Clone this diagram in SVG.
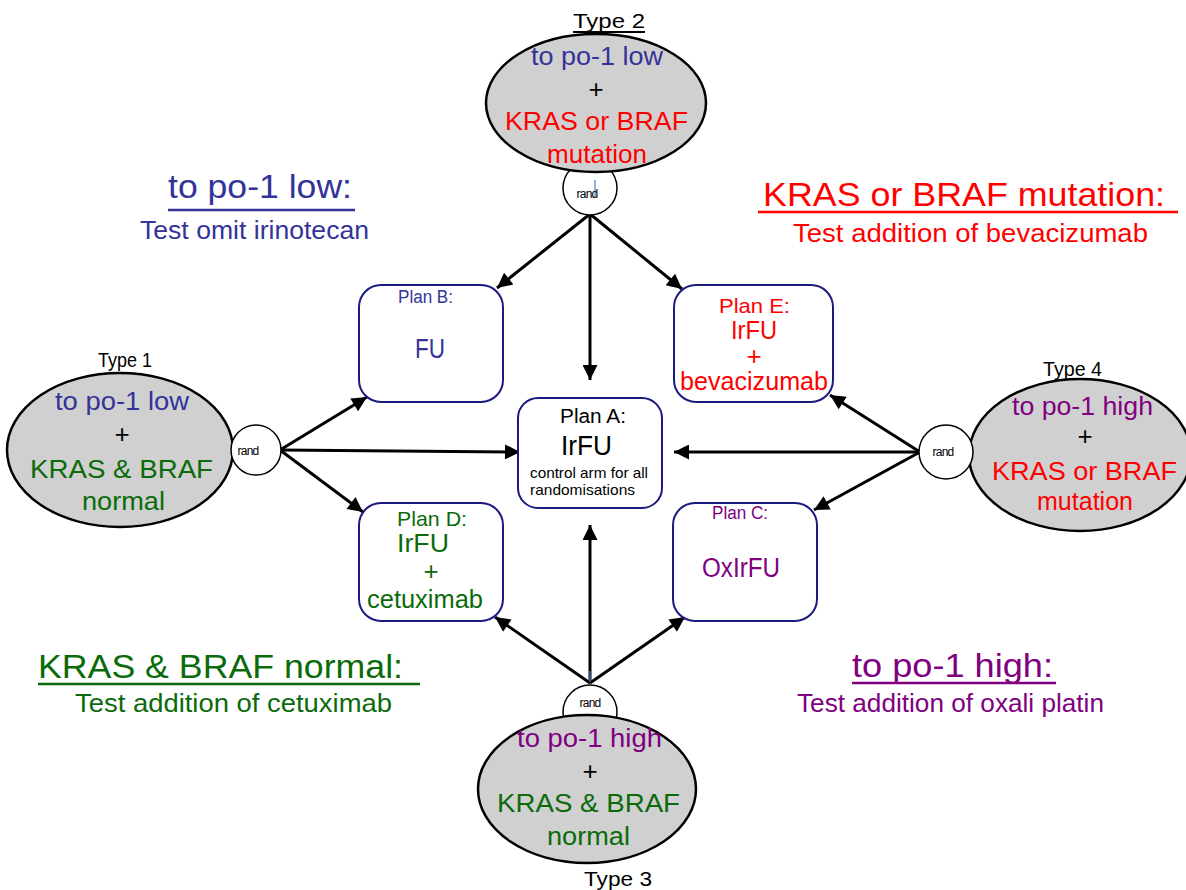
<svg xmlns="http://www.w3.org/2000/svg" width="1186" height="890" viewBox="0 0 1186 890">
  <defs>
    <marker id="arrow" viewBox="0 0 10 10" refX="10" refY="5" markerWidth="7" markerHeight="5" orient="auto" markerUnits="strokeWidth">
      <path d="M0,0 L10,5 L0,10 z" fill="#000"/>
    </marker>
    <style>
      text { font-family: "Liberation Sans", Arial, sans-serif; }
      .blue { fill: #333399; }
      .red { fill: #ff0000; }
      .green { fill: #0b6b0b; }
      .purple { fill: #800080; }
      .black { fill: #000; }
      .group-oval { fill: #d0d0d0; stroke: #000; stroke-width: 2.5; }
      .rand-circle { fill: #fff; stroke: #000; stroke-width: 1.5; }
      .rand-text { font-size: 12px; letter-spacing: -0.8px; fill: #000; }
      .type-label { font-size: 21px; fill: #000; }
      .oval-text { font-size: 26px; }
      .plan-box { fill: #fff; stroke: #1a1a80; stroke-width: 2; }
      .connector { stroke: #000; stroke-width: 3; fill: none; marker-end: url(#arrow); }
      .heading { font-size: 34px; }
      .subheading { font-size: 25px; }
      .tick { stroke: #4a7fd0; stroke-width: 1.2; }
    </style>
  </defs>

  <rect x="0" y="0" width="1186" height="890" fill="#fff"/>

  <!-- Heading captions for each patient group -->
  <g id="caption-low">
    <text class="heading blue" x="168" y="198" textLength="184" lengthAdjust="spacingAndGlyphs">to po-1 low:</text>
    <line x1="168" y1="210" x2="355" y2="210" stroke="#333399" stroke-width="2.5"/>
    <text class="subheading blue" x="140" y="239" textLength="229" lengthAdjust="spacingAndGlyphs">Test omit irinotecan</text>
  </g>
  <g id="caption-mutation">
    <text class="heading red" x="763" y="206" textLength="402" lengthAdjust="spacingAndGlyphs">KRAS or BRAF mutation:</text>
    <line x1="758" y1="212" x2="1178" y2="212" stroke="#ff0000" stroke-width="2.5"/>
    <text class="subheading red" x="793" y="242" textLength="355" lengthAdjust="spacingAndGlyphs">Test addition of bevacizumab</text>
  </g>
  <g id="caption-normal">
    <text class="heading green" x="38" y="678" textLength="365" lengthAdjust="spacingAndGlyphs">KRAS &amp; BRAF normal:</text>
    <line x1="38" y1="684" x2="420" y2="684" stroke="#0b6b0b" stroke-width="2.5"/>
    <text class="subheading green" x="75" y="712" textLength="317" lengthAdjust="spacingAndGlyphs">Test addition of cetuximab</text>
  </g>
  <g id="caption-high">
    <text class="heading purple" x="852" y="677" textLength="201" lengthAdjust="spacingAndGlyphs">to po-1 high:</text>
    <line x1="852" y1="683" x2="1056" y2="683" stroke="#800080" stroke-width="2.5"/>
    <text class="subheading purple" x="797" y="712" textLength="307" lengthAdjust="spacingAndGlyphs">Test addition of oxali platin</text>
  </g>

  <!-- Connectors from each randomisation point to the plans -->
  <g id="connectors">
    <line class="connector" x1="590" y1="214" x2="497" y2="288"/>
    <line class="connector" x1="590" y1="214" x2="590" y2="380"/>
    <line class="connector" x1="590" y1="214" x2="682" y2="289"/>

    <line class="connector" x1="280" y1="450" x2="367" y2="397"/>
    <line class="connector" x1="280" y1="450" x2="520" y2="452"/>
    <line class="connector" x1="280" y1="450" x2="363" y2="512"/>

    <line class="connector" x1="920" y1="452" x2="830" y2="395"/>
    <line class="connector" x1="920" y1="452" x2="674" y2="452"/>
    <line class="connector" x1="920" y1="452" x2="814" y2="510"/>

    <line class="connector" x1="590" y1="683" x2="495" y2="617"/>
    <line class="connector" x1="590" y1="683" x2="590" y2="525"/>
    <line class="connector" x1="590" y1="683" x2="685" y2="617"/>
  </g>

  <!-- Treatment plans -->
  <g id="plan-b">
    <rect class="plan-box" x="359" y="285" width="144" height="117" rx="22"/>
    <text class="blue" x="398" y="303" font-size="18" textLength="55" lengthAdjust="spacingAndGlyphs">Plan B:</text>
    <text class="blue" x="415" y="358" font-size="27" textLength="30" lengthAdjust="spacingAndGlyphs">FU</text>
  </g>
  <g id="plan-e">
    <rect class="plan-box" x="674" y="285" width="159" height="117" rx="22"/>
    <text class="red" x="719" y="313" font-size="21" textLength="71" lengthAdjust="spacingAndGlyphs">Plan E:</text>
    <text class="red" x="731" y="339" font-size="25" textLength="46" lengthAdjust="spacingAndGlyphs">IrFU</text>
    <text class="red" x="754" y="365" font-size="26" text-anchor="middle">+</text>
    <text class="red" x="680" y="390" font-size="25" textLength="148" lengthAdjust="spacingAndGlyphs">bevacizumab</text>
  </g>
  <g id="plan-a">
    <rect class="plan-box" x="518" y="398" width="144" height="110" rx="20"/>
    <text class="black" x="560" y="423" font-size="20" textLength="66" lengthAdjust="spacingAndGlyphs">Plan A:</text>
    <text class="black" x="561" y="455" font-size="28" textLength="51" lengthAdjust="spacingAndGlyphs">IrFU</text>
    <text class="black" x="530" y="478" font-size="15" textLength="118" lengthAdjust="spacingAndGlyphs">control arm for all</text>
    <text class="black" x="530" y="495" font-size="15" textLength="105" lengthAdjust="spacingAndGlyphs">randomisations</text>
  </g>
  <g id="plan-d">
    <rect class="plan-box" x="359" y="503" width="144" height="118" rx="22"/>
    <text class="green" x="397" y="526" font-size="21" textLength="70" lengthAdjust="spacingAndGlyphs">Plan D:</text>
    <text class="green" x="397" y="552" font-size="26" textLength="52" lengthAdjust="spacingAndGlyphs">IrFU</text>
    <text class="green" x="431" y="580" font-size="26" text-anchor="middle">+</text>
    <text class="green" x="367" y="608" font-size="26" textLength="116" lengthAdjust="spacingAndGlyphs">cetuximab</text>
  </g>
  <g id="plan-c">
    <rect class="plan-box" x="673" y="503" width="144" height="118" rx="22"/>
    <text class="purple" x="712" y="519" font-size="18" textLength="56" lengthAdjust="spacingAndGlyphs">Plan C:</text>
    <text class="purple" x="702" y="577" font-size="27" textLength="78" lengthAdjust="spacingAndGlyphs">OxIrFU</text>
  </g>

  <!-- Type 2: top group -->
  <g id="type-2">
    <circle class="rand-circle" cx="590" cy="188" r="27"/>
    <line class="tick" x1="595" y1="180" x2="595" y2="197"/>
    <text class="rand-text" x="587" y="198" text-anchor="middle">rand</text>
    <ellipse class="group-oval" cx="596" cy="103" rx="110" ry="69"/>
    <text class="type-label" x="573" y="28" textLength="72" lengthAdjust="spacingAndGlyphs">Type 2</text>
    <line x1="573" y1="32" x2="645" y2="32" stroke="#000" stroke-width="2"/>
    <text class="oval-text blue" x="531" y="65" textLength="132" lengthAdjust="spacingAndGlyphs">to po-1 low</text>
    <text class="oval-text black" x="596" y="98" text-anchor="middle">+</text>
    <text class="oval-text red" x="505" y="130" textLength="183" lengthAdjust="spacingAndGlyphs">KRAS or BRAF</text>
    <text class="oval-text red" x="547" y="163" textLength="100" lengthAdjust="spacingAndGlyphs">mutation</text>
  </g>

  <!-- Type 1: left group -->
  <g id="type-1">
    <ellipse class="group-oval" cx="120" cy="450" rx="113" ry="77"/>
    <circle class="rand-circle" cx="256" cy="450" r="25"/>
    <text class="rand-text" x="248" y="455" text-anchor="middle">rand</text>
    <text class="type-label" x="98" y="367" textLength="54" lengthAdjust="spacingAndGlyphs">Type 1</text>
    <text class="oval-text blue" x="55" y="410" textLength="134" lengthAdjust="spacingAndGlyphs">to po-1 low</text>
    <text class="oval-text black" x="122" y="443" text-anchor="middle">+</text>
    <text class="oval-text green" x="30" y="478" textLength="183" lengthAdjust="spacingAndGlyphs">KRAS &amp; BRAF</text>
    <text class="oval-text green" x="82" y="510" textLength="83" lengthAdjust="spacingAndGlyphs">normal</text>
  </g>

  <!-- Type 3: bottom group -->
  <g id="type-3">
    <circle class="rand-circle" cx="590" cy="712" r="27"/>
    <line class="tick" x1="590" y1="671" x2="590" y2="682"/>
    <text class="rand-text" x="590" y="707" text-anchor="middle">rand</text>
    <ellipse class="group-oval" cx="587" cy="789" rx="109" ry="74"/>
    <text class="oval-text purple" x="517" y="747" textLength="145" lengthAdjust="spacingAndGlyphs">to po-1 high</text>
    <text class="oval-text black" x="590" y="780" text-anchor="middle">+</text>
    <text class="oval-text green" x="497" y="812" textLength="183" lengthAdjust="spacingAndGlyphs">KRAS &amp; BRAF</text>
    <text class="oval-text green" x="547" y="845" textLength="83" lengthAdjust="spacingAndGlyphs">normal</text>
    <text class="type-label" x="584" y="886" textLength="68" lengthAdjust="spacingAndGlyphs">Type 3</text>
  </g>

  <!-- Type 4: right group -->
  <g id="type-4">
    <ellipse class="group-oval" cx="1080" cy="455" rx="111" ry="76"/>
    <circle class="rand-circle" cx="946" cy="452" r="27"/>
    <text class="rand-text" x="943" y="456" text-anchor="middle">rand</text>
    <text class="type-label" x="1043" y="376" textLength="59" lengthAdjust="spacingAndGlyphs">Type 4</text>
    <text class="oval-text purple" x="1012" y="415" textLength="141" lengthAdjust="spacingAndGlyphs">to po-1 high</text>
    <text class="oval-text black" x="1085" y="445" text-anchor="middle">+</text>
    <text class="oval-text red" x="992" y="480" textLength="185" lengthAdjust="spacingAndGlyphs">KRAS or BRAF</text>
    <text class="oval-text red" x="1037" y="510" textLength="96" lengthAdjust="spacingAndGlyphs">mutation</text>
  </g>
</svg>
